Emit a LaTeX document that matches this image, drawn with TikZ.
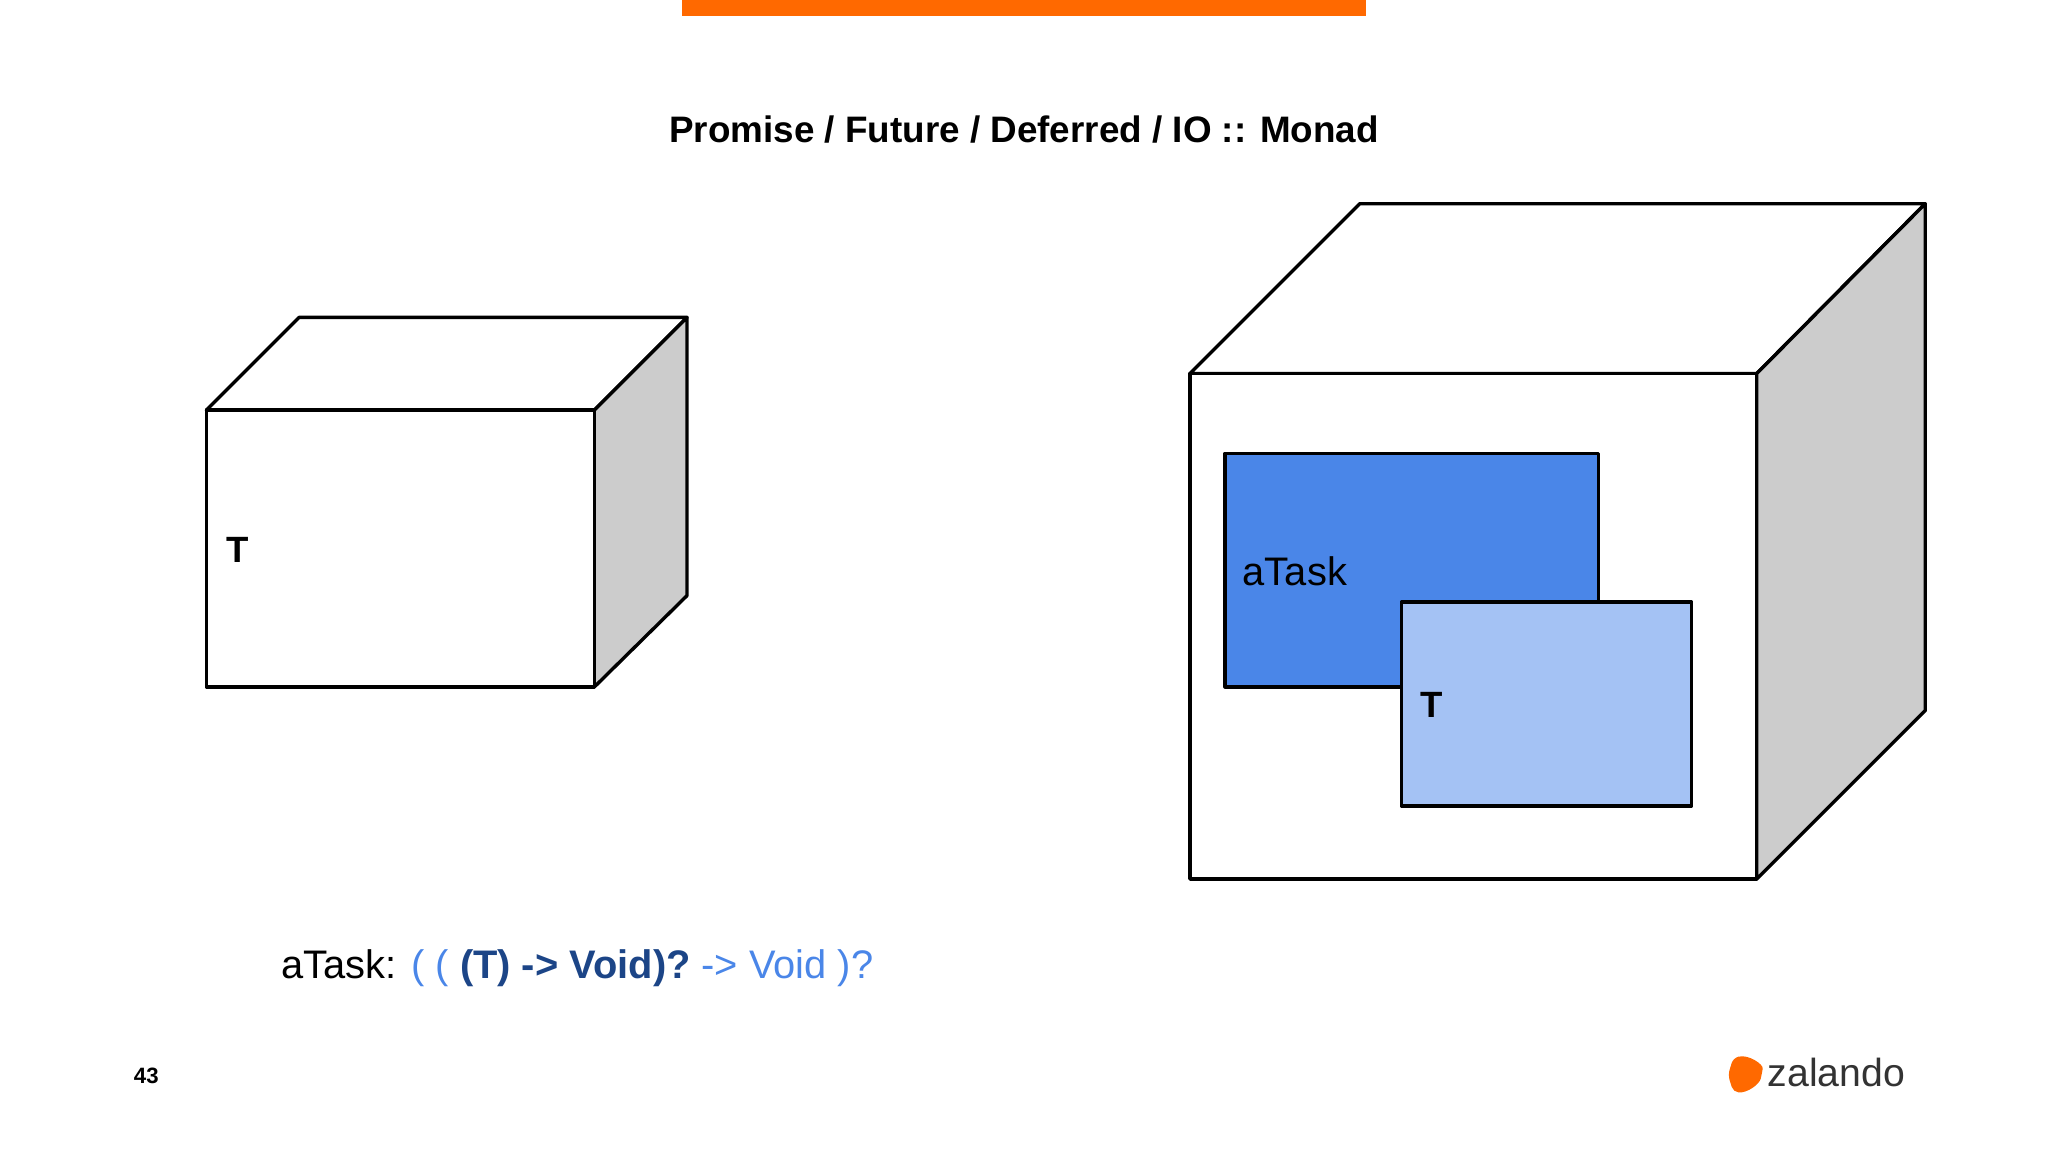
\documentclass[tikz,border=0pt]{standalone}
\usepackage{fontspec}
\setmainfont{Liberation Sans}
\definecolor{zorange}{HTML}{FF6900}
\definecolor{tblue}{HTML}{4A86E8}
\definecolor{lblue}{HTML}{A4C2F4}
\definecolor{dblue}{HTML}{1C4587}
\definecolor{sidegray}{HTML}{CCCCCC}
\tikzset{edge/.style={draw=black,line width=2.6pt,line join=round}}
\begin{document}
\begin{tikzpicture}[x=1pt,y=-1pt]
\useasboundingbox (0,0) rectangle (1568,882);
\fill[zorange] (522,0) rectangle (1046,12);
\node (title) at (784,99) {\fontsize{28.2}{32}\selectfont\bfseries Promise / Future / Deferred / IO :: Monad};
% left cube
\path[edge,fill=white] (158,314) -- (229,243) -- (526,243) -- (455,314) -- cycle;
\path[edge,fill=sidegray] (455,314) -- (526,243) -- (526,456) -- (455,526) -- cycle;
\path[edge,fill=white] (158,314) rectangle (455,526);
\node[anchor=west] (tl) at (170,421) {\fontsize{28}{32}\selectfont\bfseries T};
% right cube
\path[edge,fill=white] (911,286) -- (1041,156) -- (1474,156) -- (1345,286) -- cycle;
\path[edge,fill=sidegray] (1345,286) -- (1474,156) -- (1474,544) -- (1345,673) -- cycle;
\path[edge,fill=white] (911,286) rectangle (1345,673);
\path[edge,fill=tblue] (938,347) rectangle (1224,526);
\path[edge,fill=lblue] (1073,461) rectangle (1295,617);
\node[anchor=west] (at) at (948,437) {\fontsize{30.5}{34}\selectfont aTask};
\node[anchor=west] (tr) at (1084,540) {\fontsize{28}{32}\selectfont\bfseries T};
% formula
\node[anchor=west] (f) at (212,741) {\fontsize{30.5}{36}\selectfont aTask: \textcolor{tblue}{( ( }\textcolor{dblue}{\bfseries (T) -> Void)?}\textcolor{tblue}{\ -> Void )?}};
\node (pg) at (112,824) {\fontsize{17}{20}\selectfont\bfseries 43};
% logo
\fill[zorange,rounded corners=4pt] (1327,810) .. controls (1339,807) and (1350,815) .. (1349,822) .. controls (1347,830) and (1338,837) .. (1327,836) -- (1323,823) -- cycle;
\node[anchor=west,text=black!80] (z) at (1350,821) {\fontsize{30}{34}\selectfont zalando};
\end{tikzpicture}
\end{document}
